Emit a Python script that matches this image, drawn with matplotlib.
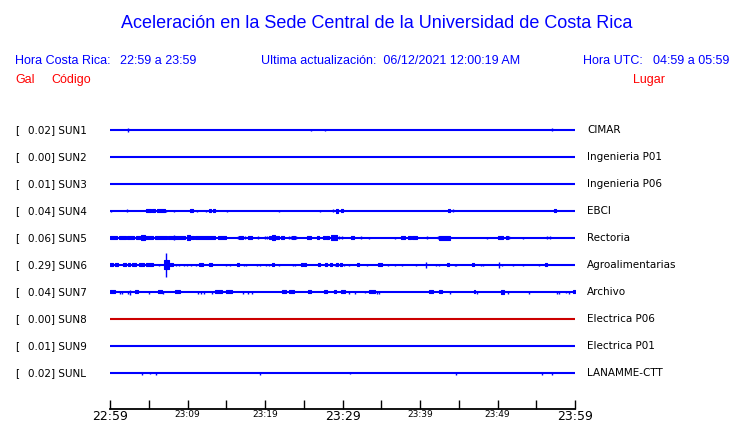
import matplotlib
matplotlib.use('Agg')
import matplotlib.pyplot as plt
import matplotlib.transforms as mtransforms

# station table
codes = ['SUN1', 'SUN2', 'SUN3', 'SUN4', 'SUN5', 'SUN6', 'SUN7', 'SUN8', 'SUN9', 'SUNL']
gal = [0.02, 0.00, 0.01, 0.04, 0.06, 0.29, 0.04, 0.00, 0.01, 0.02]
places = ['CIMAR', 'Ingenieria P01', 'Ingenieria P06', 'EBCI', 'Rectoria',
          'Agroalimentarias', 'Archivo', 'Electrica P06', 'Electrica P01', 'LANAMME-CTT']
trace_colors = ['#0000ff'] * 7 + ['#cc0000'] + ['#0000ff'] * 2

# single spikes per station: (minute, amplitude)
spikes = {
    'SUN1': [(2.3, 2), (25.9, 1), (27.7, 1), (57.0, 1.5)],
    'SUN4': [(0.1, 1), (2.2, 1.5), (7.2, 1), (8.3, 1), (11.2, 1), (12.4, 1), (15.1, 1),
             (21.8, 1), (27.1, 1), (28.8, 1.5), (44.3, 1.5)],
    'SUN5': [(8.3, 2.5), (16.5, 1.5), (17.4, 1.5), (19.1, 1.5), (20.0, 1.5), (20.3, 1.5),
             (23.1, 1.5), (23.4, 1.5), (24.0, 1.5), (29.5, 1.5), (29.9, 1.5), (32.4, 1.5),
             (33.4, 1), (36.8, 1), (40.9, 1.5), (42.3, 1.5), (48.6, 1), (51.5, 1.5),
             (53.3, 1), (56.4, 1.5), (56.8, 1.5)],
    'SUN6': [(7.26, 12), (6.3, 1), (8.5, 1.5), (8.9, 1.5), (9.5, 1.5), (9.9, 1.5), (10.5, 1.5),
             (11.1, 1.5), (15.0, 1.5), (15.5, 1.5), (17.3, 1.5), (17.5, 1.5), (19.0, 1.5),
             (19.4, 1.5), (20.1, 1.5), (20.5, 1.5), (21.8, 1.5), (23.6, 1.5), (23.9, 1.5),
             (29.0, 1.5), (30.2, 1.5), (30.8, 1.5), (33.2, 1.5), (35.9, 1.5), (36.8, 1.5),
             (37.7, 1), (39.5, 1.5), (40.8, 3), (42.1, 1.5), (42.5, 1.5), (44.5, 1.5),
             (44.6, 1.5), (47.9, 1.5), (48.1, 1.5), (50.2, 3), (50.6, 1.5), (52.0, 1.5),
             (53.3, 1.5), (55.4, 1.5)],
    'SUN7': [(1.3, 1.5), (1.5, 1.5), (2.3, 1.5), (2.6, 2.5), (5.0, 1.5), (6.8, 1.5),
             (11.4, 1.5), (11.7, 1.5), (12.1, 1.5), (13.2, 1.5), (17.2, 1.5), (17.8, 1.5),
             (18.3, 1.5), (30.8, 1.5), (31.6, 1.5), (32.9, 1), (34.5, 1.5), (34.7, 1.5),
             (43.9, 1.5), (47.4, 1.5), (51.4, 1.5), (54.1, 1.5), (57.7, 1.5), (57.9, 1.5),
             (58.8, 1), (59.2, 1.5)],
    'SUNL': [(4.1, 1.5), (5.2, 0.7), (5.9, 1.5), (19.4, 1.5), (31.0, 1), (44.6, 1.5),
             (55.7, 1.5), (57.0, 1.5)],
}

# bursts per station: (start minute, end minute, amplitude)
bursts = {
    'SUN4': [(4.6, 5.3, 1.5), (5.4, 5.8, 1.5), (6.1, 7.1, 1.5), (10.3, 10.7, 1.5),
             (12.8, 13.0, 1.5), (13.3, 13.5, 1.5), (29.2, 29.4, 2), (29.8, 30.1, 1.5),
             (43.6, 43.9, 1.5), (57.3, 57.5, 1.5)],
    'SUN5': [(0.0, 0.9, 1.5), (1.2, 2.1, 1.5), (2.2, 3.1, 1.5), (3.4, 3.9, 1.5),
             (4.0, 4.5, 2.5), (4.5, 5.5, 1.5), (5.8, 7.4, 1.5), (7.5, 9.7, 1.5),
             (9.9, 10.3, 2.5), (10.5, 10.8, 1.5), (11.0, 13.5, 1.5), (13.9, 15.0, 1.5),
             (16.6, 17.2, 1.5), (17.8, 18.3, 1.5), (20.5, 20.8, 1.5), (20.9, 21.3, 2.5),
             (21.4, 21.8, 1.5), (22.1, 22.5, 1.5), (23.5, 23.9, 1.5), (25.4, 25.9, 1.5),
             (26.7, 27.0, 1.5), (27.5, 27.7, 1.5), (27.9, 28.3, 1.5), (28.5, 29.3, 2.5),
             (31.1, 31.5, 1.5), (37.5, 38.1, 1.5), (38.5, 38.8, 1.5), (39.0, 39.6, 1.5),
             (42.5, 43.9, 2), (50.1, 50.7, 1.5), (51.1, 51.4, 1.5)],
    'SUN6': [(0.0, 0.4, 1.5), (0.6, 1.0, 1.5), (1.7, 2.1, 1.5), (2.3, 2.6, 1.5),
             (2.8, 3.4, 1.5), (3.7, 4.4, 1.5), (4.6, 5.5, 1.5), (7.0, 7.6, 4.5),
             (7.7, 8.1, 1.5), (11.5, 12.0, 1.5), (12.8, 13.2, 1.5), (16.4, 16.6, 1.5),
             (20.9, 21.2, 1.5), (24.6, 24.9, 1.5), (25.0, 25.3, 1.5), (26.8, 27.1, 1.5),
             (27.7, 28.0, 1.5), (28.4, 28.6, 1.5), (29.2, 29.4, 1.5), (29.7, 29.9, 1.5),
             (31.9, 32.1, 1.5), (34.6, 35.1, 1.5), (43.5, 43.7, 1.5), (46.7, 47.0, 1.5),
             (56.1, 56.4, 1.5)],
    'SUN7': [(0.0, 0.6, 1.5), (3.2, 3.6, 1.5), (6.2, 6.7, 1.5), (8.4, 9.0, 1.5),
             (13.5, 14.5, 1.5), (15.0, 15.7, 1.5), (22.2, 22.7, 1.5), (23.1, 23.7, 1.5),
             (25.5, 25.9, 1.5), (27.6, 28.0, 1.5), (28.9, 29.2, 1.5), (29.8, 30.3, 1.5),
             (33.4, 34.2, 1.5), (41.2, 41.7, 1.5), (42.5, 42.8, 1.5), (47.0, 47.1, 1.5),
             (50.5, 50.8, 2), (59.7, 60.0, 1.5)],
}

tick_min = [0, 10, 20, 30, 40, 50, 60]
tick_lbl = ['22:59', '23:09', '23:19', '23:29', '23:39', '23:49', '23:59']
big_lbl = ['22:59', '23:29', '23:59']

W, H = 740, 423
fig = plt.figure(figsize=(W / 100, H / 100), dpi=100)
fig.patch.set_facecolor('white')

def fx(px):
    return px / W

def fy(py):
    return 1 - py / H

# axes: x from 110 to 575 px, y bottom at 409 px, rows every 27 px
ax = fig.add_axes([fx(110), fy(409), fx(465), (409 - 116.5) / H])
ax.set_xlim(0, 60)
ax.set_ylim((409 - 130) / 27, -0.5)
scale = 1 / 27.0  # amplitude units -> row units

for i, code in enumerate(codes):
    c = trace_colors[i]
    ax.hlines(i, 0, 60, color=c, lw=1.5)
    for t0, t1, a in bursts.get(code, []):
        ax.fill_between([t0, t1], i - a * scale, i + a * scale, facecolor=c,
                        edgecolor=c, lw=0.8)
    for t, a in spikes.get(code, []):
        ax.vlines(t, i - a * scale, i + a * scale, color=c, lw=1)

for s in ['top', 'left', 'right']:
    ax.spines[s].set_visible(False)
ax.spines['bottom'].set_linewidth(1.3)
ax.set_yticks([])
ax.set_xticks(tick_min)
ax.set_xticks(range(5, 60, 10), minor=True)
ax.set_xticklabels(tick_lbl)
ax.tick_params(axis='x', which='both', direction='in', length=6.5, width=1, pad=1)
for lab in ax.get_xticklabels():
    lab.set_fontsize(9 if lab.get_text() in big_lbl else 6.5)
    lab.set_family('DejaVu Sans')

# row labels
tr = mtransforms.blended_transform_factory(fig.transFigure, ax.transData)
for i, code in enumerate(codes):
    ax.text(fx(15), i, '[', transform=tr, fontsize=7.5, va='center', ha='left')
    ax.text(fx(28), i, '%.2f] %s' % (gal[i], code), transform=tr, fontsize=7.5,
            va='center', ha='left')
    ax.text(fx(587), i, places[i], transform=tr, fontsize=7.5, va='center', ha='left')

# header
blue = '#0000ff'
red = '#ff0000'
hf = 'Liberation Sans'
fig.text(fx(377), fy(23), 'Aceleración en la Sede Central de la Universidad de Costa Rica',
         color=blue, fontsize=13, family=hf, ha='center', va='center')
fig.text(fx(15), fy(61), 'Hora Costa Rica:', color=blue, fontsize=9, family=hf, va='center')
fig.text(fx(120), fy(61), '22:59 a 23:59', color=blue, fontsize=9, family=hf, va='center')
fig.text(fx(261), fy(61), 'Ultima actualización:  06/12/2021 12:00:19 AM', color=blue,
         fontsize=9, family=hf, va='center')
fig.text(fx(583), fy(61), 'Hora UTC:', color=blue, fontsize=9, family=hf, va='center')
fig.text(fx(653), fy(61), '04:59 a 05:59', color=blue, fontsize=9, family=hf, va='center')
fig.text(fx(15), fy(80), 'Gal', color=red, fontsize=9, family=hf, va='center')
fig.text(fx(51), fy(80), 'Código', color=red, fontsize=9, family=hf, va='center')
fig.text(fx(633), fy(80), 'Lugar', color=red, fontsize=9, family=hf, va='center')

fig.savefig('out.png', dpi=100)
